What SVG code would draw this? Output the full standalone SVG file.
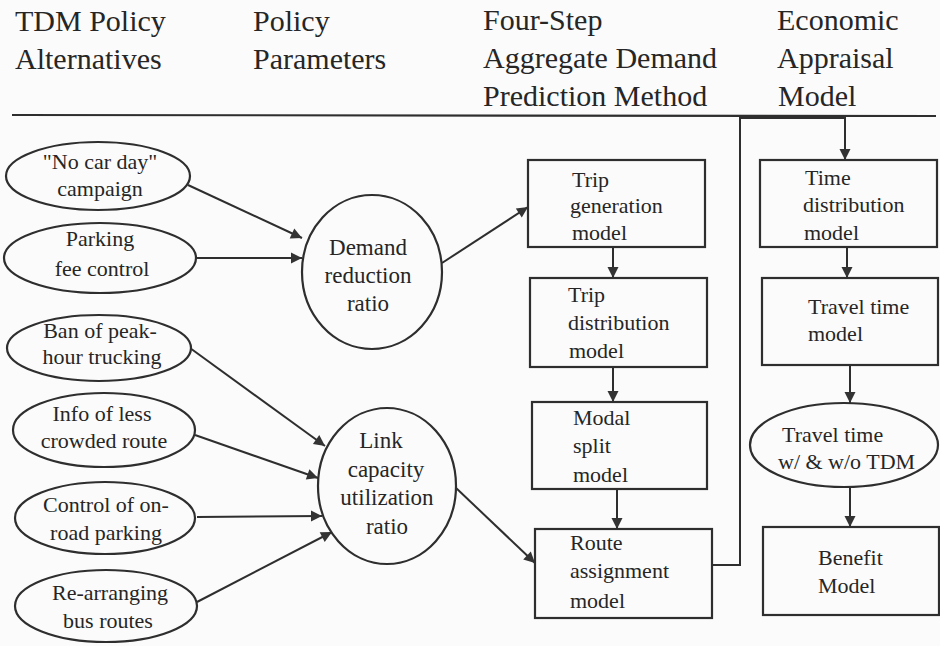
<svg xmlns="http://www.w3.org/2000/svg" width="940" height="646" viewBox="0 0 940 646">
<style>
.h{font-size:30px;fill:#262626}
.e{font-size:22px;text-anchor:middle;fill:#262626}
.c{font-size:23px;text-anchor:middle;fill:#262626}
.b{font-size:22px;fill:#262626}
.s{fill:none;stroke:#2e2e2e;stroke-width:2}
.t{fill:#333;stroke:none}
.n{fill:#fbfbfb;stroke:#2e2e2e;stroke-width:2.2}
</style>
<rect width="940" height="646" fill="#fbfbfb"/>
<g id="header">
<text class="h" font-family="Liberation Serif" x="15" y="31">TDM Policy</text>
<text class="h" font-family="Liberation Serif" x="15" y="69">Alternatives</text>
<text class="h" font-family="Liberation Serif" x="253" y="31">Policy</text>
<text class="h" font-family="Liberation Serif" x="253" y="69">Parameters</text>
<text class="h" font-family="Liberation Serif" x="483" y="30">Four-Step</text>
<text class="h" font-family="Liberation Serif" x="483" y="68">Aggregate Demand</text>
<text class="h" font-family="Liberation Serif" x="483" y="106">Prediction Method</text>
<text class="h" font-family="Liberation Serif" x="777" y="30">Economic</text>
<text class="h" font-family="Liberation Serif" x="777" y="68">Appraisal</text>
<text class="h" font-family="Liberation Serif" x="778" y="106">Model</text>
<line x1="12" y1="115" x2="936" y2="116" stroke="#2e2e2e" stroke-width="2.2"/>
</g>
<g id="connectors">
<g class="s">
<line x1="188" y1="185" x2="302" y2="238"/>
<line x1="197" y1="258" x2="302" y2="258"/>
<line x1="190" y1="348" x2="325" y2="446"/>
<line x1="195" y1="435" x2="318" y2="478"/>
<line x1="197" y1="517" x2="322" y2="516"/>
<line x1="197" y1="602" x2="332" y2="532"/>
<line x1="442" y1="263" x2="528" y2="207"/>
<line x1="455" y1="487" x2="535" y2="563"/>
<line x1="613" y1="247" x2="613" y2="278"/>
<line x1="613" y1="367" x2="613" y2="402"/>
<line x1="617" y1="489" x2="617" y2="529"/>
<polyline points="712,565 740,565 740,118 845,118 845,160"/>
<line x1="847" y1="247" x2="847" y2="278"/>
<line x1="850" y1="365" x2="850" y2="403"/>
<line x1="850" y1="487" x2="850" y2="527"/>
</g>
<g class="t">
<polygon points="302,238 289.7,238.4 294.3,228.4"/>
<polygon points="302,258 291,252.5 291,263.5"/>
<polygon points="325,446 312.9,443.9 319.3,435"/>
<polygon points="318,478 305.8,479.6 309.4,469.2"/>
<polygon points="322,516 311,510.6 311,521.6"/>
<polygon points="332,532 324.7,542 319.7,532.2"/>
<polygon points="528,207 521.8,217.6 515.8,208.4"/>
<polygon points="535,563 523.2,559.4 530.8,551.4"/>
<polygon points="613,278 607.5,267 618.5,267"/>
<polygon points="613,402 607.5,391 618.5,391"/>
<polygon points="617,529 611.5,518 622.5,518"/>
<polygon points="845,160 839.5,149 850.5,149"/>
<polygon points="847,278 841.5,267 852.5,267"/>
<polygon points="850,403 844.5,392 855.5,392"/>
<polygon points="850,527 844.5,516 855.5,516"/>
</g>
</g>
<g id="no-car-day">
<ellipse class="n" cx="98" cy="176" rx="92" ry="34"/>
<text class="e" font-family="Liberation Serif" x="100" y="169">"No car day"</text>
<text class="e" font-family="Liberation Serif" x="100" y="196">campaign</text>
</g>
<g id="parking-fee">
<ellipse class="n" cx="100" cy="258" rx="96" ry="35"/>
<text class="e" font-family="Liberation Serif" x="100" y="246">Parking</text>
<text class="e" font-family="Liberation Serif" x="102" y="276">fee control</text>
</g>
<g id="ban-trucking">
<ellipse class="n" cx="99" cy="348" rx="92" ry="33"/>
<text class="e" font-family="Liberation Serif" x="100" y="338">Ban of peak-</text>
<text class="e" font-family="Liberation Serif" x="102" y="364">hour trucking</text>
</g>
<g id="info-route">
<ellipse class="n" cx="104" cy="430" rx="91" ry="37"/>
<text class="e" font-family="Liberation Serif" x="102" y="421">Info of less</text>
<text class="e" font-family="Liberation Serif" x="104" y="448">crowded route</text>
</g>
<g id="control-parking">
<ellipse class="n" cx="105" cy="518" rx="90" ry="36"/>
<text class="e" font-family="Liberation Serif" x="106" y="512">Control of on-</text>
<text class="e" font-family="Liberation Serif" x="106" y="540">road parking</text>
</g>
<g id="rearranging-bus">
<ellipse class="n" cx="106" cy="606" rx="91" ry="36"/>
<text class="e" font-family="Liberation Serif" x="110" y="600">Re-arranging</text>
<text class="e" font-family="Liberation Serif" x="108" y="628">bus routes</text>
</g>
<g id="demand-reduction">
<ellipse class="n" cx="372" cy="272" rx="70" ry="77"/>
<text class="c" font-family="Liberation Serif" x="368" y="255">Demand</text>
<text class="c" font-family="Liberation Serif" x="368" y="283">reduction</text>
<text class="c" font-family="Liberation Serif" x="368" y="311">ratio</text>
</g>
<g id="link-capacity">
<ellipse class="n" cx="387" cy="486" rx="69" ry="78"/>
<text class="c" font-family="Liberation Serif" x="381" y="448">Link</text>
<text class="c" font-family="Liberation Serif" x="386" y="477">capacity</text>
<text class="c" font-family="Liberation Serif" x="387" y="505">utilization</text>
<text class="c" font-family="Liberation Serif" x="387" y="534">ratio</text>
</g>
<g id="trip-generation">
<rect class="n" x="528" y="160" width="177" height="87"/>
<text class="b" font-family="Liberation Serif" x="572" y="187">Trip</text>
<text class="b" font-family="Liberation Serif" x="570" y="213">generation</text>
<text class="b" font-family="Liberation Serif" x="572" y="240">model</text>
</g>
<g id="trip-distribution">
<rect class="n" x="530" y="278" width="177" height="89"/>
<text class="b" font-family="Liberation Serif" x="568" y="302">Trip</text>
<text class="b" font-family="Liberation Serif" x="568" y="330">distribution</text>
<text class="b" font-family="Liberation Serif" x="569" y="358">model</text>
</g>
<g id="modal-split">
<rect class="n" x="532" y="402" width="175" height="87"/>
<text class="b" font-family="Liberation Serif" x="573" y="425">Modal</text>
<text class="b" font-family="Liberation Serif" x="573" y="453">split</text>
<text class="b" font-family="Liberation Serif" x="573" y="482">model</text>
</g>
<g id="route-assignment">
<rect class="n" x="535" y="529" width="177" height="89"/>
<text class="b" font-family="Liberation Serif" x="570" y="550">Route</text>
<text class="b" font-family="Liberation Serif" x="570" y="578">assignment</text>
<text class="b" font-family="Liberation Serif" x="570" y="608">model</text>
</g>
<g id="time-distribution">
<rect class="n" x="760" y="160" width="177" height="87"/>
<text class="b" font-family="Liberation Serif" x="805" y="185">Time</text>
<text class="b" font-family="Liberation Serif" x="803" y="212">distribution</text>
<text class="b" font-family="Liberation Serif" x="804" y="240">model</text>
</g>
<g id="travel-time-model">
<rect class="n" x="762" y="278" width="176" height="87"/>
<text class="b" font-family="Liberation Serif" x="808" y="314">Travel time</text>
<text class="b" font-family="Liberation Serif" x="808" y="341">model</text>
</g>
<g id="travel-time-tdm">
<ellipse class="n" cx="844" cy="445" rx="94" ry="42"/>
<text class="b" font-family="Liberation Serif" x="782" y="442">Travel time</text>
<text class="b" font-family="Liberation Serif" x="778" y="469">w/ &amp; w/o TDM</text>
</g>
<g id="benefit-model">
<rect class="n" x="763" y="527" width="176" height="88"/>
<text class="b" font-family="Liberation Serif" x="818" y="565">Benefit</text>
<text class="b" font-family="Liberation Serif" x="818" y="593">Model</text>
</g>
</svg>
